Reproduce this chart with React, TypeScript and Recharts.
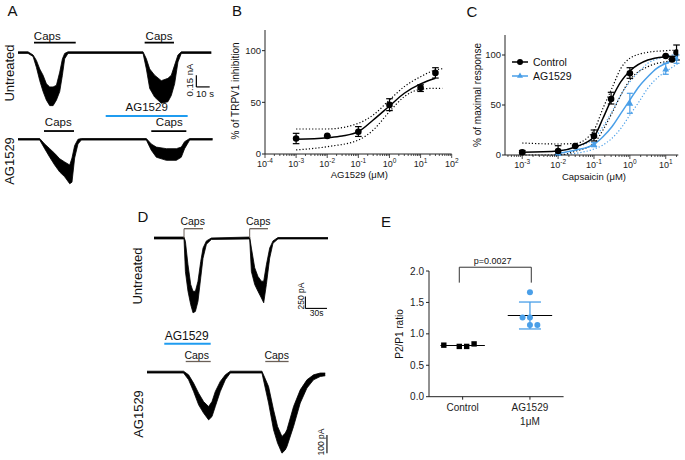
import React from 'react';
import { ComposedChart, Area, Line, Scatter, XAxis, YAxis, ErrorBar, ReferenceLine, Legend } from 'recharts';

const FONT = 'Arial, "Liberation Sans", Helvetica, sans-serif';
const AX = '#222';
const BLUE = '#4a9fe8';
const BAR_BLUE = '#1f9cf0';
const CAPS_GREY = '#6a5f57';

// ---- A: whole-cell traces (time s, current nA) ----
const aUntT = [0, 7.5, 11.3, 13.8, 16.3, 18.8, 21.3, 23.8, 26.3, 28.8, 31.3, 33.3, 35, 37.5, 93.8, 96.3, 98.8, 102.5, 107.5, 112.5, 115, 117.5, 120, 122.5, 145];
const aUntHi = [0.01, 0.01, -0.03, -0.1, -0.21, -0.29, -0.4, -0.44, -0.44, -0.42, -0.25, -0.08, -0.01, 0.01, 0.01, -0.08, -0.21, -0.29, -0.36, -0.33, -0.29, -0.16, -0.03, 0.01, 0.01];
const aUntLo = [-0.01, -0.01, -0.05, -0.19, -0.36, -0.5, -0.61, -0.68, -0.68, -0.61, -0.5, -0.29, -0.08, -0.01, -0.01, -0.21, -0.46, -0.57, -0.65, -0.63, -0.55, -0.4, -0.12, -0.01, -0.01];

const aAgT = [0, 16.3, 20, 23.8, 27.5, 31.3, 35, 38.8, 40.5, 42.5, 45, 47.5, 96.3, 100, 103.8, 111.3, 118.8, 122.5, 125, 128.8, 146];
const aAgHi = [0.01, 0.01, -0.06, -0.12, -0.18, -0.25, -0.29, -0.33, -0.24, -0.08, 0, 0.01, 0.01, -0.06, -0.1, -0.12, -0.12, -0.1, -0.03, 0.01, 0.01];
const aAgLo = [-0.01, -0.01, -0.12, -0.23, -0.33, -0.42, -0.48, -0.57, -0.55, -0.24, -0.06, -0.01, -0.01, -0.14, -0.23, -0.27, -0.27, -0.23, -0.12, -0.01, -0.01];

// ---- D: traces (time s, current pA) ----
const dUntT = [0, 41.7, 43.6, 47.2, 51, 54.2, 57.5, 61.1, 64.9, 68.1, 72.8, 79.7, 132.9, 135.3, 139.9, 144.4, 149.2, 152.4, 156.1, 160.7, 165.3, 172.2, 241.7];
const dUntHi = [20, 20, -70, -560, -970, -1110, -1110, -900, -490, -210, -60, 0, 20, -210, -620, -800, -900, -900, -560, -210, -60, 10, 10];
const dUntLo = [-20, -20, -700, -1110, -1390, -1560, -1530, -1320, -830, -420, -130, -30, -20, -700, -970, -1110, -1250, -1350, -970, -420, -110, -20, -20];

const dAgT = [0, 50.8, 57.8, 64.7, 71.7, 78.6, 85.6, 90.3, 94.9, 101.8, 108.8, 115.7, 159.7, 168.9, 175.8, 181.4, 187.5, 192.1, 194.4, 203.6, 212.9, 222.2, 231.4, 240.7, 247.6];
const dAgHi = [5, 5, -15, -60, -115, -161, -188, -161, -106, -51, -15, 5, 5, -79, -206, -297, -352, -333, -315, -188, -97, -42, -15, -5, -5];
const dAgLo = [-5, -5, -42, -106, -179, -224, -261, -243, -188, -106, -42, -5, -5, -169, -315, -388, -443, -425, -407, -297, -169, -87, -42, -24, -20];

// ---- B: AG1529 inhibition ----
const bConc = [0.001, 0.01, 0.1, 1, 10, 30];
const bMean = [15, 17.5, 21.5, 47.5, 64, 78.5];
const bLow = [10, 17.5, 17, 42, 60.5, 73.5];
const bHigh = [20, 17.5, 26.5, 53.5, 67, 83.5];
const bFitConc = [0.001, 0.01, 0.03, 0.1, 0.3, 1, 3, 10, 30];
const bFit = [14.2, 15.8, 17.4, 21.6, 32.9, 46.5, 58.8, 67.8, 73.3];
const bBandConc = [0.001, 0.01, 0.1, 0.3, 1, 3, 10, 30, 50];
const bBandHi = [24.2, 24.2, 29.7, 37.7, 52.3, 65.2, 74.8, 81.3, 82.5];
const bBandLo = [3.9, 7.1, 13.5, 23.2, 41, 55.5, 62.6, 63.6, 63.6];

// ---- C: capsaicin dose response ----
const cCtrlConc = [0.001, 0.01, 0.03, 0.1, 0.3, 1, 10, 15, 20];
const cCtrlMean = [2.7, 4, 9, 19, 56, 81.7, 99, 95.5, 102.5];
const cCtrlLow = [1, 0.7, 9, 14, 51, 76.7, 99, 95.5, 95];
const cCtrlHigh = [4.5, 9.3, 9, 25, 62.7, 87.3, 99, 95.5, 110];
const cAgConc = [0.01, 0.1, 1, 10, 20];
const cAgMean = [1.3, 10.5, 51.7, 86, 96.7];
const cAgLow = [1.3, 8.3, 41.7, 80.7, 91.7];
const cAgHigh = [1.3, 12.3, 61.7, 91.7, 100];

const cCtrlFitConc = [0.001, 0.01, 0.0316, 0.1, 0.178, 0.316, 0.562, 1, 3.16, 10, 22.4];
const cCtrlFit = [2.7, 4, 8.3, 18.3, 36.7, 56.7, 73.3, 84, 95, 98.3, 99];
const cCtrlUpper = [12, 11, 11.7, 25, 46.7, 66.7, 86.7, 96.7, 102.7, 104.3, 105];
const cCtrlLower = [0, 0, 4, 11.7, 25, 41.7, 60, 75, 88.3, 93.3, 95];
const cAgFitConc = [0.01, 0.0316, 0.1, 0.178, 0.316, 0.562, 1, 1.78, 3.16, 5.62, 10, 22.4];
const cAgFit = [1.7, 5, 10.7, 18.3, 28.3, 41.7, 55, 68.3, 78.3, 86.7, 91.7, 96.7];
const cAgUpper = [4, 8, 16.7, 28.3, 43.3, 60, 73.3, 83, 91.7, 96, 98.3, 101.7];
const cAgLower = [0, 1.7, 6, 10, 16.7, 26.7, 40, 53, 66.7, 76.7, 83.3, 91.7];

// ---- E: P2/P1 ratio ----
const eGroups = [['Control'], ['AG1529', '1\u03bcM']];
const eCtrl = [0.82, 0.8, 0.8, 0.84];
const eCtrlJitter = [-0.28, -0.05, 0.06, 0.17];
const eAg = [1.66, 1.26, 1.26, 1.14, 1.14];
const eAgJitter = [0, -0.11, 0, 0, 0.11];

const toBand = (t: number[], hi: number[], lo: number[]) => t.map((v, i) => ({ t: v, band: [lo[i], hi[i]] }));
const toXY = (xs: number[], ys: number[]) => xs.map((x, i) => ({ x, y: ys[i] }));
const toPts = (xs: number[], m: number[], lo: number[], hi: number[]) =>
  xs.map((x, i) => ({ x, y: m[i], err: [m[i] - lo[i], hi[i] - m[i]] }));
const mean = (a: number[]) => a.reduce((s, v) => s + v, 0) / a.length;
const sd = (a: number[]) => {
  const m = mean(a);
  return Math.sqrt(a.reduce((s, v) => s + (v - m) * (v - m), 0) / (a.length - 1));
};

const logTicks = (from: number, to: number, lo: number, hi: number) => {
  const out: number[] = [];
  for (let e = from; e <= to; e++) {
    for (let k = 1; k <= 9; k++) {
      const v = k * Math.pow(10, e);
      if (v >= lo * 0.999 && v <= hi * 1.001) out.push(v);
    }
  }
  return out;
};
const bTicks = logTicks(-4, 2, 1e-4, 100);
const cDomain: [number, number] = [Math.pow(10, -3.48), Math.pow(10, 1.35)];
const cTicks = logTicks(-4, 1, cDomain[0], cDomain[1]);

const LogTick = (props: any) => {
  const { x, y, payload } = props;
  const p = Math.log10(payload.value);
  const major = Math.abs(p - Math.round(p)) < 1e-6;
  return (
    <g>
      <line x1={x} x2={x} y1={y} y2={y + (major ? 4 : 2)} stroke={AX} strokeWidth={0.8} />
      {major && (
        <text x={x} y={y + 12.5} textAnchor="middle" fontSize={9} fill={AX} fontFamily={FONT}>
          10<tspan dy={-4} fontSize={6.5}>{Math.round(p)}</tspan>
        </text>
      )}
    </g>
  );
};

const GroupTick = (props: any) => {
  const { x, y, payload } = props;
  const lines = eGroups[Math.round(payload.value) - 1] || [];
  return (
    <text x={x} y={y} textAnchor="middle" fontSize={10} fill={AX} fontFamily={FONT}>
      {lines.map((s, i) => (
        <tspan key={i} x={x} dy={i === 0 ? 8.5 : 13.5}>{s}</tspan>
      ))}
    </text>
  );
};

const BlackDot = (p: any) => <circle cx={p.cx} cy={p.cy} r={3.3} fill="#000" />;
const SmallDot = (p: any) => <circle cx={p.cx} cy={p.cy} r={3} fill={BLUE} />;
const BlueTri = (p: any) => (
  <path d={`M${p.cx},${p.cy - 3.6}L${p.cx + 3.4},${p.cy + 2.4}L${p.cx - 3.4},${p.cy + 2.4}Z`} fill={BLUE} />
);
const Square = (p: any) => <rect x={p.cx - 2.7} y={p.cy - 2.7} width={5.4} height={5.4} fill="#000" />;
const NoShape = () => <g />;

const Txt = ({ x, y, size = 10, rot = 0, color = '#111', children }: any) => (
  <div
    style={{
      position: 'absolute', left: x, top: y, fontSize: size, color, lineHeight: 1, whiteSpace: 'nowrap',
      transform: `translate(-50%, -50%) rotate(${rot}deg)`,
    }}
  >
    {children}
  </div>
);

interface TraceProps {
  rows: { t: number; band: number[] }[];
  left: number; top: number; width: number; height: number;
  xDomain: [number, number]; yDomain: [number, number];
  children?: React.ReactNode;
}

const Trace = ({ rows, left, top, width, height, xDomain, yDomain, children }: TraceProps) => (
  <div style={{ position: 'absolute', left, top }}>
    <ComposedChart width={width} height={height} data={rows} margin={{ top: 0, right: 0, bottom: 0, left: 0 }}>
      <XAxis dataKey="t" type="number" domain={xDomain} hide />
      <YAxis type="number" domain={yDomain} hide />
      <Area dataKey="band" type="linear" fill="#000" fillOpacity={1} stroke="#000" strokeWidth={0.8} isAnimationActive={false} />
      {children}
    </ComposedChart>
  </div>
);

const seg = (x1: number, y1: number, x2: number, y2: number) => [{ x: x1, y: y1 }, { x: x2, y: y2 }];

export default function App() {
  const agMean = mean(eAg);
  const ctrlMean = mean(eCtrl);
  return (
    <div style={{ position: 'absolute', left: 0, top: 0, width: 685, height: 460, background: '#fff', fontFamily: FONT, color: '#111', overflow: 'hidden' }}>
      {/* panel letters */}
      <Txt x={12.5} y={10} size={15}>A</Txt>
      <Txt x={237} y={10} size={15}>B</Txt>
      <Txt x={472} y={11} size={15}>C</Txt>
      <Txt x={143} y={216} size={15}>D</Txt>
      <Txt x={386} y={221} size={15}>E</Txt>

      {/* ---------- A ---------- */}
      <Trace rows={toBand(aUntT, aUntHi, aUntLo)} left={18.3} top={36.7} width={193.3} height={70.2} xDomain={[0, 145]} yDomain={[-0.7, 0.2]}>
        <ReferenceLine segment={seg(12, 0.128, 43.3, 0.128)} stroke="#000" strokeWidth={1.8} />
        <ReferenceLine segment={seg(95, 0.128, 117, 0.128)} stroke="#000" strokeWidth={1.8} />
        <ReferenceLine segment={seg(133.8, -0.29, 133.8, -0.44)} stroke="#000" strokeWidth={1.2} />
        <ReferenceLine segment={seg(133.8, -0.44, 143.8, -0.44)} stroke="#000" strokeWidth={1.2} />
      </Trace>
      <Trace rows={toBand(aAgT, aAgHi, aAgLo)} left={18.3} top={111.7} width={194.6} height={81.9} xDomain={[0, 146]} yDomain={[-0.7, 0.35]}>
        <ReferenceLine segment={seg(19.5, 0.106, 42, 0.106)} stroke="#000" strokeWidth={1.8} />
        <ReferenceLine segment={seg(100, 0.106, 126.3, 0.106)} stroke="#000" strokeWidth={1.8} />
        <ReferenceLine segment={seg(65.8, 0.3, 127.3, 0.3)} stroke={BAR_BLUE} strokeWidth={2} />
      </Trace>
      <Txt x={47.3} y={36.7} size={11.5}>Caps</Txt>
      <Txt x={159} y={36.7} size={11.5}>Caps</Txt>
      <Txt x={146.7} y={108.3} size={11.5}>AG1529</Txt>
      <Txt x={58.3} y={123.3} size={11.5}>Caps</Txt>
      <Txt x={169.3} y={123.3} size={11.5}>Caps</Txt>
      <Txt x={190} y={80} size={9.5} rot={-90}>0.15 nA</Txt>
      <Txt x={205} y={94.3} size={9.5}>10 s</Txt>
      <Txt x={9} y={73} size={13} rot={-90}>Untreated</Txt>
      <Txt x={9} y={161} size={13} rot={-90}>AG1529</Txt>

      {/* ---------- B ---------- */}
      <div style={{ position: 'absolute', left: 225, top: 20 }}>
        <ComposedChart width={235} height={170} margin={{ top: 10, right: 8.3, bottom: 0, left: 0 }}>
          <XAxis dataKey="x" type="number" scale="log" domain={[1e-4, 100]} ticks={bTicks} interval={0} allowDataOverflow
            tickSize={0} tickMargin={0} tick={<LogTick />} height={36} axisLine={{ stroke: AX }} />
          <YAxis dataKey="y" type="number" domain={[0, 120]} ticks={[0, 50, 100]} width={40} tickSize={3} tickMargin={1}
            tick={{ fontSize: 9.5, fill: AX }} axisLine={{ stroke: AX }} tickLine={{ stroke: AX }} />
          <Line data={toXY(bBandConc, bBandHi)} dataKey="y" type="monotone" stroke="#000" strokeWidth={1.2} strokeDasharray="1.2 2" dot={false} isAnimationActive={false} />
          <Line data={toXY(bBandConc, bBandLo)} dataKey="y" type="monotone" stroke="#000" strokeWidth={1.2} strokeDasharray="1.2 2" dot={false} isAnimationActive={false} />
          <Line data={toXY(bFitConc, bFit)} dataKey="y" type="monotone" stroke="#000" strokeWidth={1.5} dot={false} isAnimationActive={false} />
          <Scatter data={toPts(bConc, bMean, bLow, bHigh)} dataKey="y" shape={BlackDot} isAnimationActive={false}>
            <ErrorBar dataKey="err" direction="y" width={3.3} stroke="#000" strokeWidth={1.2} />
          </Scatter>
        </ComposedChart>
      </div>
      <Txt x={235.5} y={91} size={10} rot={-90}>% of TRPV1 inhibition</Txt>
      <Txt x={359.3} y={175} size={9.5}>AG1529 (&mu;M)</Txt>

      {/* ---------- C ---------- */}
      <div style={{ position: 'absolute', left: 465, top: 25 }}>
        <ComposedChart width={220} height={170} margin={{ top: 10, right: 6.7, bottom: 0, left: 0 }}>
          <XAxis dataKey="x" type="number" scale="log" domain={cDomain} ticks={cTicks} interval={0} allowDataOverflow
            tickSize={0} tickMargin={0} tick={<LogTick />} height={40} axisLine={{ stroke: AX }} />
          <YAxis dataKey="y" type="number" domain={[0, 120]} ticks={[0, 50, 100]} width={40} tickSize={3} tickMargin={1}
            tick={{ fontSize: 9.5, fill: AX }} axisLine={{ stroke: AX }} tickLine={{ stroke: AX }} />
          <Line data={toXY(cAgFitConc, cAgUpper)} dataKey="y" type="monotone" stroke={BLUE} strokeWidth={1.2} strokeDasharray="1.2 2" dot={false} isAnimationActive={false} />
          <Line data={toXY(cAgFitConc, cAgLower)} dataKey="y" type="monotone" stroke={BLUE} strokeWidth={1.2} strokeDasharray="1.2 2" dot={false} isAnimationActive={false} />
          <Line data={toXY(cCtrlFitConc, cCtrlUpper)} dataKey="y" type="monotone" stroke="#000" strokeWidth={1.2} strokeDasharray="1.2 2" dot={false} isAnimationActive={false} />
          <Line data={toXY(cCtrlFitConc, cCtrlLower)} dataKey="y" type="monotone" stroke="#000" strokeWidth={1.2} strokeDasharray="1.2 2" dot={false} isAnimationActive={false} />
          <Line data={toXY(cAgFitConc, cAgFit)} dataKey="y" type="monotone" stroke={BLUE} strokeWidth={1.5} dot={false} isAnimationActive={false} />
          <Line data={toXY(cCtrlFitConc, cCtrlFit)} dataKey="y" type="monotone" stroke="#000" strokeWidth={1.5} dot={false} isAnimationActive={false} />
          <Scatter data={toPts(cAgConc, cAgMean, cAgLow, cAgHigh)} dataKey="y" shape={BlueTri} isAnimationActive={false}>
            <ErrorBar dataKey="err" direction="y" width={3} stroke={BLUE} strokeWidth={1.2} />
          </Scatter>
          <Scatter data={toPts(cCtrlConc, cCtrlMean, cCtrlLow, cCtrlHigh)} dataKey="y" shape={BlackDot} isAnimationActive={false}>
            <ErrorBar dataKey="err" direction="y" width={3.3} stroke="#000" strokeWidth={1.2} />
          </Scatter>
          <Legend layout="vertical" align="center" verticalAlign="middle"
            wrapperStyle={{ left: 47, top: 30, width: 100 }}
            content={() => (
              <div style={{ fontFamily: FONT, fontSize: 10.5, color: '#111' }}>
                {[{ name: 'Control', c: '#000', tri: false }, { name: 'AG1529', c: BLUE, tri: true }].map((it) => (
                  <div key={it.name} style={{ display: 'flex', alignItems: 'center', height: 14 }}>
                    <svg width={17} height={10} style={{ marginRight: 4 }}>
                      <line x1={0} x2={16} y1={5} y2={5} stroke={it.c} strokeWidth={1.5} />
                      {it.tri
                        ? <path d="M8,1.5L11,6.8L5,6.8Z" fill={it.c} />
                        : <circle cx={8} cy={5} r={3} fill={it.c} />}
                    </svg>
                    <span>{it.name}</span>
                  </div>
                ))}
              </div>
            )}
          />
        </ComposedChart>
      </div>
      <Txt x={477.5} y={95} size={10} rot={-90}>% of maximal response</Txt>
      <Txt x={594} y={176.7} size={9.5}>Capsaicin (&mu;M)</Txt>

      {/* ---------- D ---------- */}
      <Trace rows={toBand(dUntT, dUntHi, dUntLo)} left={154.3} top={226.3} width={174} height={91.2} xDomain={[0, 241.7]} yDomain={[-1650, 250]}>
        <ReferenceLine segment={seg(41.7, 194, 68.1, 194)} stroke={CAPS_GREY} strokeWidth={1.3} />
        <ReferenceLine segment={seg(41.7, 194, 41.7, 0)} stroke={CAPS_GREY} strokeWidth={1} />
        <ReferenceLine segment={seg(132.9, 194, 158.3, 194)} stroke={CAPS_GREY} strokeWidth={1.3} />
        <ReferenceLine segment={seg(132.9, 194, 132.9, 0)} stroke={CAPS_GREY} strokeWidth={1} />
        <ReferenceLine segment={seg(210.3, -1217, 210.3, -1467)} stroke="#000" strokeWidth={1.1} />
        <ReferenceLine segment={seg(210.3, -1467, 240.3, -1467)} stroke="#000" strokeWidth={1.1} />
      </Trace>
      <Trace rows={toBand(dAgT, dAgHi, dAgLo)} left={146.7} top={341.2} width={181.4} height={115.3} xDomain={[0, 252]} yDomain={[-460, 170]}>
        <ReferenceLine segment={seg(53.8, 58, 88.5, 58)} stroke={CAPS_GREY} strokeWidth={1.3} />
        <ReferenceLine segment={seg(164.3, 58, 196.7, 58)} stroke={CAPS_GREY} strokeWidth={1.3} />
        <ReferenceLine segment={seg(24, 154.6, 88.5, 154.6)} stroke={BAR_BLUE} strokeWidth={2} />
        <ReferenceLine segment={seg(250, -343, 250, -443)} stroke="#000" strokeWidth={1.1} />
      </Trace>
      <Txt x={192.7} y={221} size={10.5}>Caps</Txt>
      <Txt x={258.3} y={221} size={10.5}>Caps</Txt>
      <Txt x={186.7} y={336} size={12}>AG1529</Txt>
      <Txt x={196.7} y={355} size={10.5}>Caps</Txt>
      <Txt x={276.7} y={355} size={10.5}>Caps</Txt>
      <Txt x={300.7} y={296} size={8.5} rot={-90}>250 pA</Txt>
      <Txt x={316.7} y={313.3} size={8.5}>30s</Txt>
      <Txt x={320.7} y={442.3} size={8.5} rot={-90}>100 pA</Txt>
      <Txt x={137} y={276} size={13} rot={-90}>Untreated</Txt>
      <Txt x={138} y={414} size={13} rot={-90}>AG1529</Txt>

      {/* ---------- E ---------- */}
      <div style={{ position: 'absolute', left: 380, top: 255 }}>
        <ComposedChart width={190} height={180} margin={{ top: 16, right: 6.4, bottom: 0, left: 0 }}>
          <XAxis dataKey="x" type="number" domain={[0.5, 2.5]} ticks={[1, 2]} interval={0} height={38.3} tickSize={3} tickMargin={3}
            tick={<GroupTick />} axisLine={{ stroke: AX }} tickLine={{ stroke: AX }} />
          <YAxis dataKey="y" type="number" domain={[0, 2]} ticks={[0, 0.5, 1, 1.5, 2]} tickFormatter={(v: number) => v.toFixed(1)}
            width={49} tickSize={3} tickMargin={2} tick={{ fontSize: 10, fill: AX }} axisLine={{ stroke: AX }} tickLine={{ stroke: AX }} />
          <ReferenceLine segment={seg(0.95, 1.815, 0.95, 2.06)} stroke="#333" strokeWidth={1} ifOverflow="visible" />
          <ReferenceLine segment={seg(0.95, 2.06, 2.02, 2.06)} stroke="#333" strokeWidth={1} ifOverflow="visible" />
          <ReferenceLine segment={seg(2.02, 2.06, 2.02, 1.815)} stroke="#333" strokeWidth={1} ifOverflow="visible" />
          <ReferenceLine segment={seg(0.67, ctrlMean, 1.33, ctrlMean)} stroke="#000" strokeWidth={1.2} />
          <ReferenceLine segment={seg(1.67, agMean, 2.33, agMean)} stroke="#000" strokeWidth={1.2} />
          <Scatter data={[{ x: 2, y: agMean, err: sd(eAg) }]} dataKey="y" shape={NoShape} isAnimationActive={false}>
            <ErrorBar dataKey="err" direction="y" width={11} stroke={BLUE} strokeWidth={1.3} />
          </Scatter>
          <Scatter data={eCtrl.map((v, i) => ({ x: 1 + eCtrlJitter[i], y: v }))} dataKey="y" shape={Square} isAnimationActive={false} />
          <Scatter data={eAg.map((v, i) => ({ x: 2 + eAgJitter[i], y: v }))} dataKey="y" shape={SmallDot} isAnimationActive={false} />
        </ComposedChart>
      </div>
      <Txt x={492.7} y={261} size={9}>p=0.0027</Txt>
      <Txt x={399.5} y={334} size={10} rot={-90}>P2/P1 ratio</Txt>
    </div>
  );
}
